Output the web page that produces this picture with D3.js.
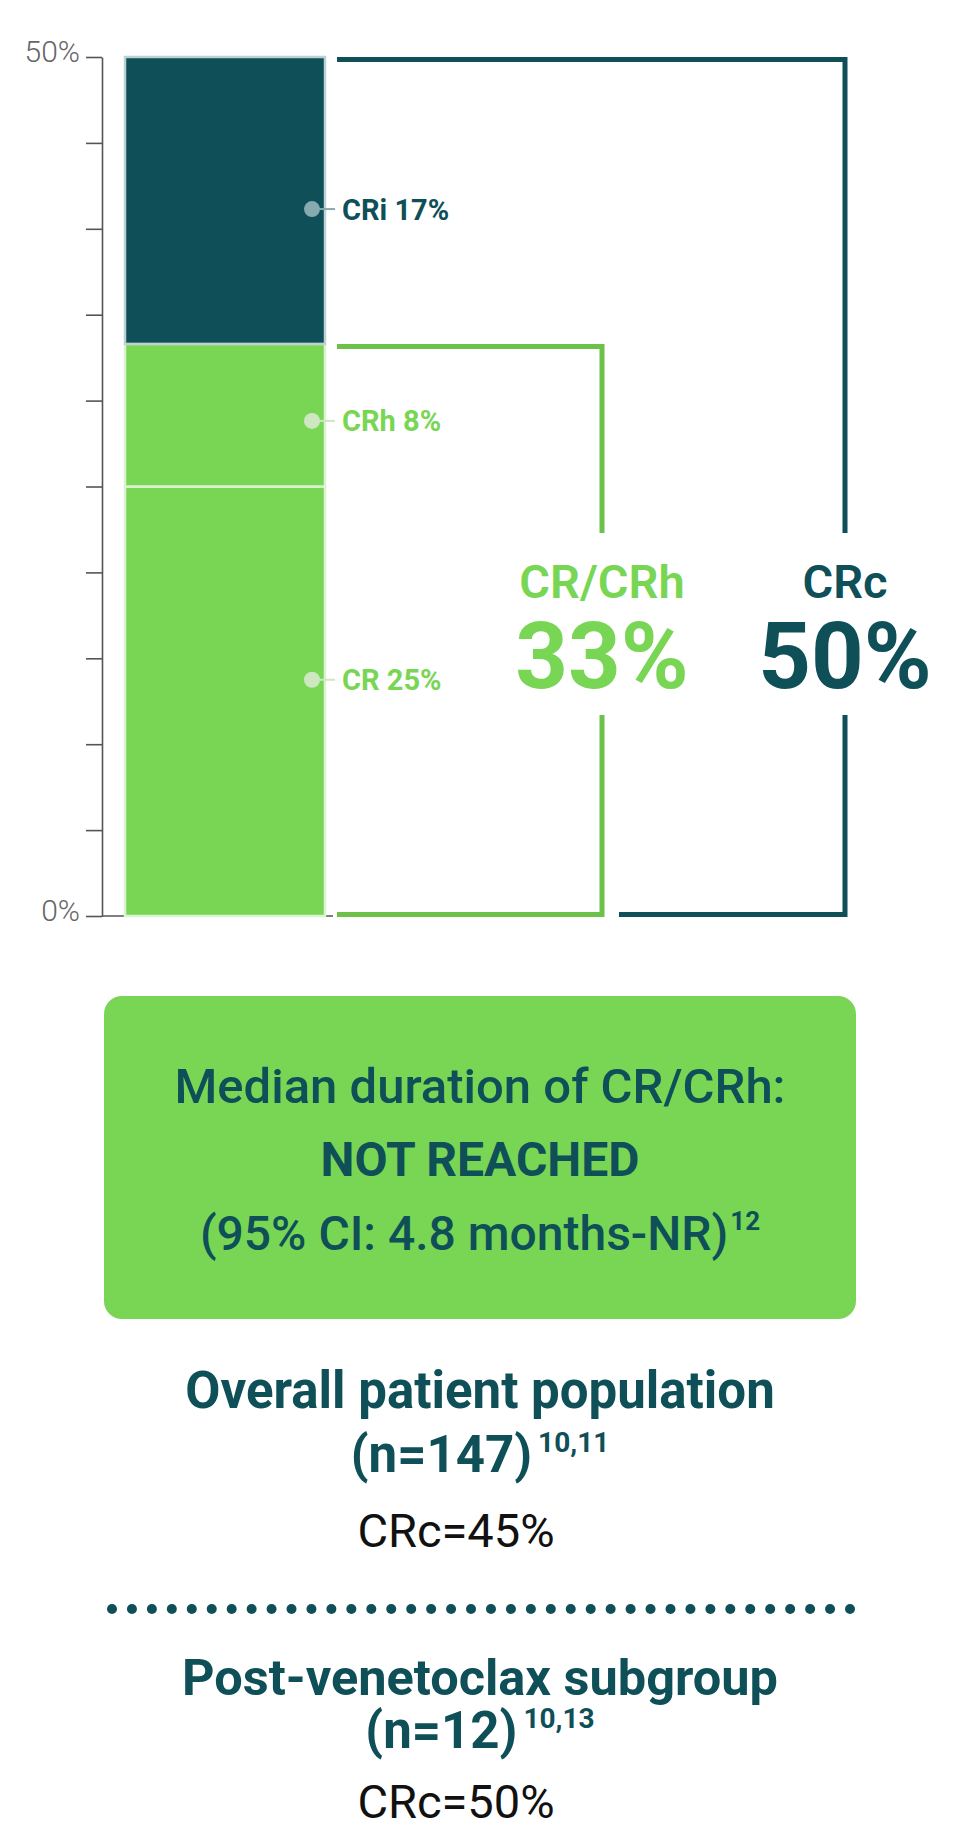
<!DOCTYPE html>
<html>
<head>
<meta charset="utf-8">
<script src="https://cdn.jsdelivr.net/npm/d3@7"></script>
<style>
  body { margin: 0; background: #fff; }
  svg text { font-family: Roboto, "Noto Sans", sans-serif; }
</style>
</head>
<body>
<svg id="chart" width="960" height="1840"></svg>
<script>
"use strict";

// response rates, stacked bottom to top
var segmentKeys = ["CR", "CRh", "CRi"],
    segmentValues = [25, 8.3, 16.7],
    segmentLabels = ["CR 25%", "CRh 8%", "CRi 17%"];

var bracketNames = ["CR/CRh", "CRc"],
    bracketValues = [33.3, 50],
    bracketLabels = ["33%", "50%"];

var yTicks = [0, 5, 10, 15, 20, 25, 30, 35, 40, 45, 50],
    yLabelledTicks = [0, 50];

var DARK = "#0e4f58",
    GREEN = "#79d655",
    GREEN_LINE = "#6cc148";

var svg = d3.select("#chart");

var y = d3.scaleLinear().domain([0, 50]).range([916, 57]);
var x = d3.scaleBand().domain(["bar"]).range([125, 325]);

// axis
var axis = d3.axisLeft(y)
  .tickValues(yTicks)
  .tickSize(16)
  .tickSizeOuter(0)
  .tickPadding(6)
  .tickFormat(function(d) { return yLabelledTicks.indexOf(d) >= 0 ? d + "%" : ""; });

var axisG = svg.append("g")
  .attr("transform", "translate(102,0)")
  .call(axis);

axisG.select(".domain").attr("stroke", "#555").attr("stroke-width", 1.6);
axisG.selectAll(".tick line").attr("stroke", "#555").attr("stroke-width", 1.6);
axisG.selectAll(".tick text")
  .attr("fill", "#666")
  .attr("dy", "0.16em")
  .style("font-size", "30px")
  .style("font-weight", 300);

svg.append("line")
  .attr("x1", 102)
  .attr("x2", x.range()[1] + 8)
  .attr("y1", y(0))
  .attr("y2", y(0))
  .attr("stroke", "#555")
  .attr("stroke-width", 1.6);

// stacked bar
var tops = d3.cumsum(segmentValues);
var segFill = [GREEN, GREEN, DARK],
    segStroke = ["#dcf3d2", "#dcf3d2", "#bdd1d3"],
    dotFill = ["#cde8c1", "#cde8c1", "#86aaad"],
    labelFill = [GREEN, GREEN, DARK],
    labelFrac = [0.55, 0.46, 0.47];

var seg = svg.selectAll(".seg").data(segmentKeys)
  .enter()
  .append("g")
  .attr("class", "seg");

seg.append("rect")
  .attr("x", x("bar"))
  .attr("width", x.bandwidth())
  .attr("y", function(d, i) { return y(tops[i]); })
  .attr("height", function(d, i) { return y(tops[i] - segmentValues[i]) - y(tops[i]); })
  .attr("fill", function(d, i) { return segFill[i]; })
  .attr("stroke", function(d, i) { return segStroke[i]; })
  .attr("stroke-width", 2.5);

function labelY(i) {
  return y(tops[i] - segmentValues[i] * (1 - labelFrac[i]));
}

seg.append("line")
  .attr("x1", x("bar") + x.bandwidth() - 8)
  .attr("x2", x("bar") + x.bandwidth() + 10)
  .attr("y1", function(d, i) { return labelY(i); })
  .attr("y2", function(d, i) { return labelY(i); })
  .attr("stroke", function(d, i) { return dotFill[i]; })
  .attr("stroke-width", 2);

seg.append("circle")
  .attr("cx", x("bar") + x.bandwidth() - 13)
  .attr("cy", function(d, i) { return labelY(i); })
  .attr("r", 8)
  .attr("fill", function(d, i) { return dotFill[i]; });

seg.append("text")
  .attr("x", x("bar") + x.bandwidth() + 17)
  .attr("y", function(d, i) { return labelY(i); })
  .attr("dy", "0.36em")
  .attr("fill", function(d, i) { return labelFill[i]; })
  .style("font-size", "29px")
  .style("font-weight", 700)
  .text(function(d, i) { return segmentLabels[i]; });

// brackets
var bracketX = [602, 845],
    bracketColor = [GREEN_LINE, DARK],
    textColor = [GREEN, DARK],
    lineStart = 337,
    gapTop = 533,
    gapBottom = 715,
    sw = 5;

bracketValues.forEach(function(v, i) {
  var p = d3.path();
  var bx = bracketX[i];
  var endX = i == 0 ? lineStart : bracketX[i - 1] + 17;
  p.moveTo(lineStart, y(v) + sw / 2);
  p.lineTo(bx, y(v) + sw / 2);
  p.lineTo(bx, gapTop);
  p.moveTo(bx, gapBottom);
  p.lineTo(bx, y(0) - sw / 2 + 1);
  p.lineTo(endX, y(0) - sw / 2 + 1);

  svg.append("path")
    .attr("d", p.toString())
    .attr("fill", "none")
    .attr("stroke", bracketColor[i])
    .attr("stroke-width", sw);

  svg.append("text")
    .attr("x", bx)
    .attr("y", 598)
    .attr("text-anchor", "middle")
    .attr("fill", textColor[i])
    .style("font-size", "47px")
    .style("font-weight", 600)
    .text(bracketNames[i]);

  svg.append("text")
    .attr("x", bx)
    .attr("y", 688)
    .attr("text-anchor", "middle")
    .attr("fill", textColor[i])
    .style("font-size", "92px")
    .style("font-weight", 700)
    .text(bracketLabels[i]);
});

// duration box
svg.append("rect")
  .attr("x", 104)
  .attr("y", 996)
  .attr("width", 752)
  .attr("height", 323)
  .attr("rx", 18)
  .attr("fill", GREEN);

function centered(yPos, size, weight, color, main, sup, supSize, supDx) {
  var t = svg.append("text")
    .attr("x", 480)
    .attr("y", yPos)
    .attr("text-anchor", "middle")
    .attr("fill", color)
    .style("font-size", size + "px")
    .style("font-weight", weight);
  t.append("tspan").text(main);
  if (sup) {
    t.append("tspan")
      .attr("dx", supDx)
      .attr("dy", -20)
      .style("font-size", supSize + "px")
      .style("font-weight", 700)
      .text(sup);
  }
  return t;
}

centered(1103, 49, 500, DARK, "Median duration of CR/CRh:");
centered(1176, 48, 700, DARK, "NOT REACHED");
centered(1250, 48, 500, DARK, "(95% CI: 4.8 months-NR)", "12", 26, 2);

centered(1408, 51, 700, DARK, "Overall patient population");
centered(1472, 51, 700, DARK, "(n=147)", "10,11", 28, 6);

svg.append("text")
  .attr("x", 456)
  .attr("y", 1547)
  .attr("text-anchor", "middle")
  .attr("fill", "#111")
  .style("font-size", "47px")
  .style("font-weight", 400)
  .text("CRc=45%");

// dotted separator
var dotX = d3.scaleLinear().domain([0, 37]).range([112, 850]);
svg.selectAll(".sep").data(d3.range(38))
  .enter()
  .append("circle")
  .attr("class", "sep")
  .attr("cx", function(d) { return dotX(d); })
  .attr("cy", 1609)
  .attr("r", 5)
  .attr("fill", DARK);

centered(1695, 50.5, 700, DARK, "Post-venetoclax subgroup");
centered(1748, 51, 700, DARK, "(n=12)", "10,13", 28, 6);

svg.append("text")
  .attr("x", 456)
  .attr("y", 1818)
  .attr("text-anchor", "middle")
  .attr("fill", "#111")
  .style("font-size", "47px")
  .style("font-weight", 400)
  .text("CRc=50%");
</script>
</body>
</html>
